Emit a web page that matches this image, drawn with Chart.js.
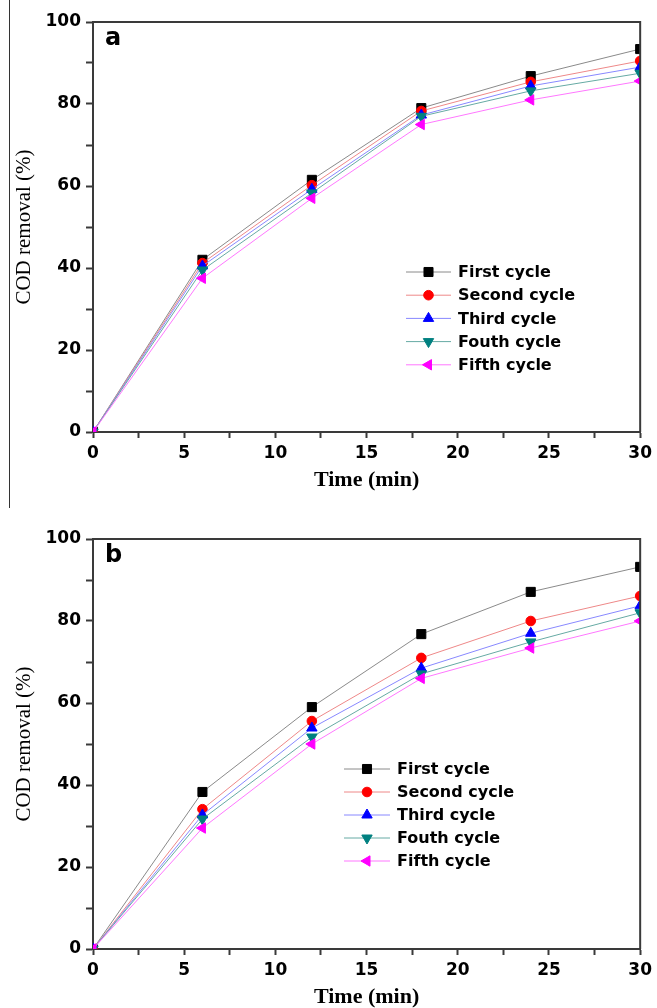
<!DOCTYPE html>
<html>
<head>
<meta charset="utf-8">
<script src="https://cdn.jsdelivr.net/npm/chart.js@4.4.1/dist/chart.umd.min.js"></script>
<style>
  body { margin: 0; background: #fff; }
  #wrap { position: relative; width: 657px; height: 1008px; overflow: hidden; }
  #chartA { position: absolute; left: 0; top: 0; }
  #chartB { position: absolute; left: 0; top: 510px; }
  #edge { position: absolute; left: 9px; top: 0; width: 1px; height: 508px; background: #333; }
</style>
</head>
<body>
<div id="wrap">
  <div id="edge"></div>
  <canvas id="chartA" width="657" height="505"></canvas>
  <canvas id="chartB" width="657" height="498"></canvas>
</div>
<script>
// sampling times (min)
var time = [0, 6, 12, 18, 24, 30];
var cycleNames = ["First cycle", "Second cycle", "Third cycle", "Fouth cycle", "Fifth cycle"];

// panel a, COD removal (%)
var aFirst  = [0, 42.0, 61.5, 79.0, 86.8, 93.4];
var aSecond = [0, 41.2, 60.2, 78.3, 85.4, 90.5];
var aThird  = [0, 40.5, 59.2, 77.3, 84.4, 89.0];
var aFouth  = [0, 39.5, 58.3, 77.0, 83.2, 87.5];
var aFifth  = [0, 37.5, 57.0, 75.0, 81.0, 85.6];

// panel b, COD removal (%)
var bFirst  = [0, 38.3, 59.0, 76.8, 87.1, 93.2];
var bSecond = [0, 34.1, 55.6, 71.0, 80.0, 86.1];
var bThird  = [0, 32.7, 53.9, 68.5, 77.0, 83.7];
var bFouth  = [0, 31.7, 51.7, 67.1, 74.9, 82.0];
var bFifth  = [0, 29.5, 50.0, 66.0, 73.4, 80.0];

var yTicks = [0, 20, 40, 60, 80, 100];
var xTicks = [0, 5, 10, 15, 20, 25, 30];

var looks = [
  { line: "#8a8a8a", mark: "#000000", style: "rect",     radius: 6.4, rotation: 0 },
  { line: "#ee8888", mark: "#ff0000", style: "circle",   radius: 4.8, rotation: 0 },
  { line: "#8888ff", mark: "#0000ff", style: "triangle", radius: 6,   rotation: 0 },
  { line: "#66aaa4", mark: "#008080", style: "triangle", radius: 6,   rotation: 180 },
  { line: "#ff77ff", mark: "#ff00ff", style: "triangle", radius: 6,   rotation: -90 }
];

var sans = "'DejaVu Sans', sans-serif";
var serif = "'Liberation Serif', 'Times New Roman', serif";
var axisColor = "#3a3a3a";

// top and right sides of the frame, plus the panel letter
var framePlugin = {
  id: "frame",
  afterDatasetsDraw: function(chart, args, opts) {
    var a = chart.chartArea, ctx = chart.ctx;
    ctx.save();
    ctx.strokeStyle = axisColor;
    ctx.lineWidth = 2;
    ctx.beginPath();
    ctx.moveTo(a.left, a.top);
    ctx.lineTo(a.right, a.top);
    ctx.lineTo(a.right, a.bottom);
    ctx.stroke();
    ctx.fillStyle = "#000";
    ctx.font = "bold 24px " + sans;
    ctx.textBaseline = "alphabetic";
    ctx.fillText(opts.letter, a.left + 12, a.top + 23);
    ctx.restore();
  }
};

// legend drawn inside the plot area
var cycleLegend = {
  id: "cycleLegend",
  afterDraw: function(chart, args, opts) {
    var ctx = chart.ctx;
    ctx.save();
    ctx.font = "bold 16px " + sans;
    ctx.textBaseline = "middle";
    chart.data.datasets.forEach(function(ds, i) {
      var y = opts.y + i * opts.gap;
      var lk = looks[i];
      ctx.strokeStyle = lk.line;
      ctx.lineWidth = 1;
      ctx.beginPath();
      ctx.moveTo(opts.x, y);
      ctx.lineTo(opts.x + opts.len, y);
      ctx.stroke();
      ctx.fillStyle = lk.mark;
      ctx.strokeStyle = lk.mark;
      Chart.helpers.drawPoint(ctx, {
        pointStyle: lk.style, radius: lk.radius, rotation: lk.rotation, borderWidth: 1
      }, opts.x + opts.len / 2, y);
      ctx.fillStyle = "#000";
      ctx.fillText(ds.label, opts.x + opts.len + 7, y + 1);
    });
    ctx.restore();
  }
};

function makeChart(id, series, letter, padTop, xHeight, titlePad, legend) {
  var datasets = series.map(function(vals, i) {
    var lk = looks[i];
    return {
      label: cycleNames[i],
      data: time.map(function(t, j) { return { x: t, y: vals[j] }; }),
      borderColor: lk.line,
      borderWidth: 1,
      backgroundColor: lk.mark,
      pointBackgroundColor: lk.mark,
      pointBorderColor: lk.mark,
      pointBorderWidth: 1,
      pointStyle: lk.style,
      pointRadius: lk.radius,
      pointRotation: lk.rotation,
      tension: 0,
      order: 5 - i
    };
  });

  return new Chart(document.getElementById(id), {
    type: "line",
    data: { datasets: datasets },
    options: {
      responsive: false,
      animation: false,
      events: [],
      layout: { padding: { top: padTop, right: 14, left: 0, bottom: 0 } },
      scales: {
        x: {
          type: "linear",
          min: 0,
          max: 30,
          afterFit: function(s) { s.height = xHeight; },
          border: { color: axisColor, width: 2 },
          grid: { drawOnChartArea: false, tickLength: 6, tickColor: axisColor, tickWidth: 2 },
          ticks: {
            stepSize: 2.5,
            autoSkip: false,
            maxRotation: 0,
            padding: 5,
            color: "#000",
            font: { family: sans, weight: "bold", size: 17 },
            callback: function(v) { return xTicks.indexOf(v) >= 0 ? String(v) : ""; }
          },
          title: {
            display: true,
            text: "Time (min)",
            color: "#000",
            padding: { top: 0, bottom: titlePad },
            font: { family: serif, weight: "bold", size: 22, lineHeight: 1 }
          }
        },
        y: {
          min: 0,
          max: 100,
          afterFit: function(s) { s.width = 93; },
          border: { color: axisColor, width: 2 },
          grid: { drawOnChartArea: false, tickLength: 7, tickColor: axisColor, tickWidth: 2 },
          ticks: {
            stepSize: 10,
            autoSkip: false,
            padding: 5,
            color: "#000",
            font: { family: sans, weight: "bold", size: 17 },
            callback: function(v) { return yTicks.indexOf(v) >= 0 ? String(v) : ""; }
          },
          title: {
            display: true,
            text: "COD removal (%)",
            color: "#000",
            padding: { top: 14, bottom: 0 },
            font: { family: serif, size: 21, lineHeight: 1 }
          }
        }
      },
      plugins: {
        legend: { display: false },
        tooltip: { enabled: false },
        frame: { letter: letter },
        cycleLegend: legend
      }
    },
    plugins: [framePlugin, cycleLegend]
  });
}

makeChart("chartA", [aFirst, aSecond, aThird, aFouth, aFifth], "a", 22, 73, 14,
  { x: 406, y: 272, gap: 23.2, len: 45 });
makeChart("chartB", [bFirst, bSecond, bThird, bFouth, bFifth], "b", 29, 59, 0,
  { x: 344, y: 769 - 510, gap: 23, len: 46 });
</script>
</body>
</html>
